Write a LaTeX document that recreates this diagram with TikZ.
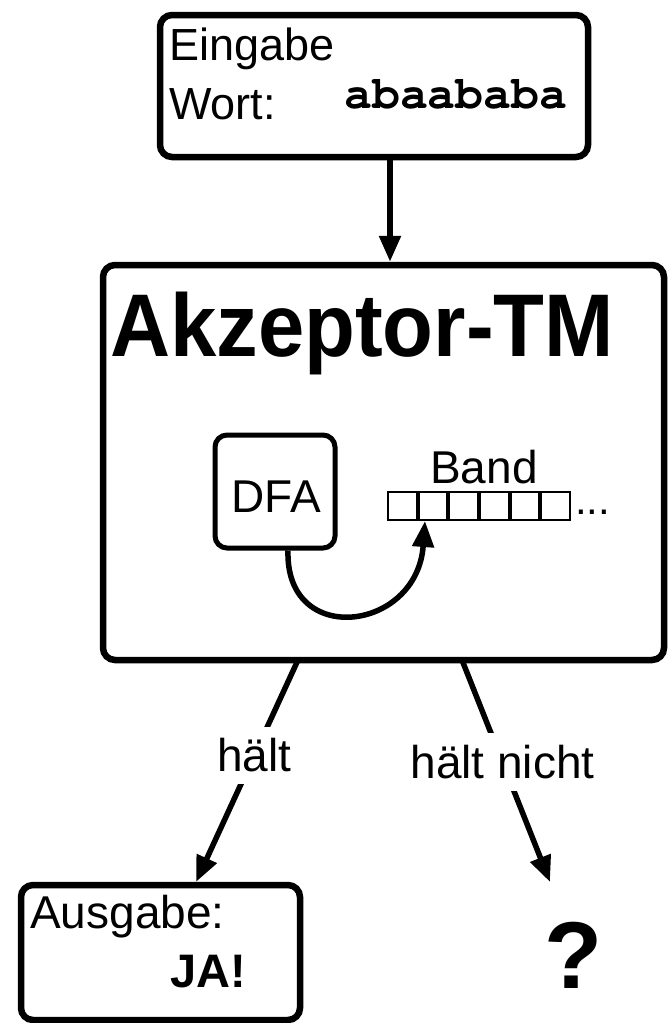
\documentclass[tikz,border=0pt]{standalone}
\usepackage{fontspec}
\setmainfont{Liberation Sans}
\newfontfamily\monob{TeX Gyre Cursor}
\usetikzlibrary{arrows.meta}
\tikzset{
  bigbox/.style={draw, line width=6.5pt, rounded corners=12pt, inner sep=0pt},
  cell/.style={draw, line width=2pt, minimum width=28.67pt, minimum height=28pt, inner sep=0pt},
  txt/.style={inner sep=0pt, anchor=base west},
  arr/.style={line width=5.5pt, -{Triangle[length=26pt,width=21pt]}},
  lbl/.style={fill=white, inner xsep=4pt, inner ysep=12pt, font=\fontsize{46}{50}\selectfont},
}
\begin{document}
\begin{tikzpicture}[x=1pt,y=-1pt]
\useasboundingbox (0,0) rectangle (668,1023);
% input box
\node[bigbox, minimum width=428pt, minimum height=142pt] (inp) at (374,86) {};
\node[txt, font=\fontsize{45}{50}\selectfont] (eing) at (169,60) {Eingabe};
\node[txt, font=\fontsize{45}{50}\selectfont] (wort) at (169,119) {Wort:};
\node[txt, font=\monob\bfseries\fontsize{46.5}{50}\selectfont] (word) at (344,108) {abaababa};
% TM box
\node[bigbox, minimum width=561pt, minimum height=395pt] (tm) at (383.5,462.5) {};
\node[txt, font=\bfseries\fontsize{89}{95}\selectfont] (title) at (110,356) {\scalebox{0.935}[1]{Akzeptor-TM}};
% DFA
\node[draw, line width=5pt, rounded corners=12pt, minimum width=120pt, minimum height=113pt, inner sep=0pt] (dfa) at (275,491.5) {};
\node[inner sep=0pt, anchor=base, font=\fontsize{46}{50}\selectfont] (dfat) at (276,512) {DFA};
% tape
\node[cell] (c1) at (402.3,506) {};
\node[cell, anchor=west] (c2) at (c1.east) {};
\node[cell, anchor=west] (c3) at (c2.east) {};
\node[cell, anchor=west] (c4) at (c3.east) {};
\node[cell, anchor=west] (c5) at (c4.east) {};
\node[cell, anchor=west] (c6) at (c5.east) {};
\node[inner sep=0pt, anchor=base, font=\fontsize{46}{50}\selectfont] (band) at (484,483) {Band};
\node[txt, font=\fontsize{42}{44}\selectfont] (dots) at (575,514) {...};
\draw[arr] ([xshift=13pt]dfa.south) .. controls (285,648) and (417,632) .. ([xshift=-8pt]c2.south);
% input arrow
\coordinate (ax) at (390,0);
\draw[arr] (inp.south -| ax) -- (tm.north -| ax);
% outputs
\node[bigbox, minimum width=279pt, minimum height=135pt] (out) at (160.5,952.5) {};
\node[txt, font=\fontsize{46}{50}\selectfont] (ausg) at (30,928) {Ausgabe:};
\node[txt, font=\bfseries\fontsize{47}{50}\selectfont] (ja) at (170,987) {JA!};
\node[inner sep=0pt, anchor=base, font=\bfseries\fontsize{95}{100}\selectfont] (q) at (574,988) {?};
\coordinate (ls) at (298,660);
\coordinate (le) at (196,882);
\coordinate (rs) at (462,660);
\coordinate (re) at (550,882);
\draw[arr] (ls) -- (le) node[lbl, pos=0.43] {hält};
\draw[arr] (rs) -- (re) node[lbl, pos=0.46] {hält nicht};
\end{tikzpicture}
\end{document}
